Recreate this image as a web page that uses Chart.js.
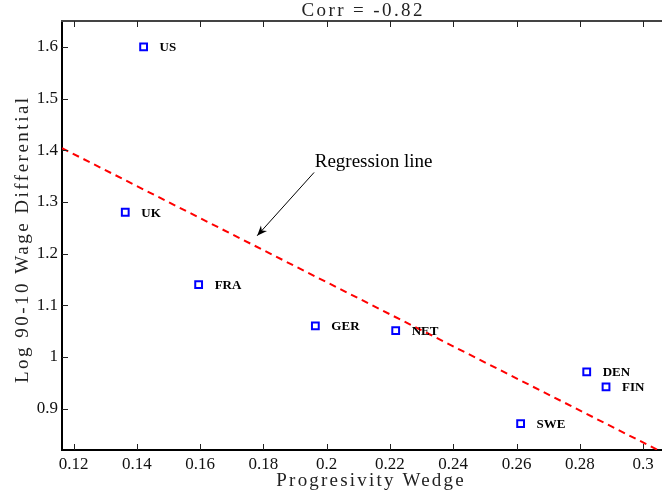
<!DOCTYPE html>
<html>
<head>
<meta charset="utf-8">
<script src="https://cdn.jsdelivr.net/npm/chart.js@4.4.1/dist/chart.umd.min.js"></script>
<style>
  html, body { margin: 0; padding: 0; background: #fff; }
  #wrap { width: 662px; height: 497px; }
</style>
</head>
<body>
<div id="wrap"><canvas id="chart"></canvas></div>
<script>
// values
const countries = ['US', 'UK', 'FRA', 'GER', 'NET', 'DEN', 'FIN', 'SWE'];
const wedge = [0.1421, 0.1363, 0.1595, 0.1964, 0.2218, 0.2822, 0.2883, 0.2613];
const wageDiff = [1.60, 1.28, 1.14, 1.06, 1.051, 0.971, 0.942, 0.871];

// regression line end points
const regWedge = [0.1163, 0.306];
const regWageDiff = [1.404, 0.816];

const xTicks = [0.12, 0.14, 0.16, 0.18, 0.2, 0.22, 0.24, 0.26, 0.28, 0.3];
const yTicks = [0.9, 1.0, 1.1, 1.2, 1.3, 1.4, 1.5, 1.6];

const titleText = 'Corr = -0.82';
const xTitle = 'Progresivity Wedge';
const yTitle = 'Log 90-10 Wage Differential';
const noteText = 'Regression line';
// note anchor and arrow, in data units
const noteAt = [0.1962, 1.368];
const arrowFrom = [0.196, 1.357];
const arrowTo = [0.178, 1.2345];

const SERIF = '"Liberation Serif", "Times New Roman", serif';

function fmt(v) {
    return String(+v.toFixed(2));
}

function spacedText(ctx, text, x, y, spacing) {
    if ('letterSpacing' in ctx) {
        ctx.letterSpacing = spacing + 'px';
        // trailing spacing shifts centred text, compensate
        const off = ctx.textAlign === 'center' ? spacing / 2 : 0;
        ctx.fillText(text, x + off, y);
        ctx.letterSpacing = '0px';
    } else {
        ctx.fillText(text, x, y);
    }
}

const decorPlugin = {
    id: 'decor',
    afterDatasetsDraw(chart) {
        const ctx = chart.ctx;
        const xs = chart.scales.x;
        const ys = chart.scales.y;
        const area = chart.chartArea;

        ctx.save();

        // top frame line
        ctx.strokeStyle = '#444';
        ctx.lineWidth = 2;
        ctx.beginPath();
        ctx.moveTo(area.left - 1, area.top);
        ctx.lineTo(area.right, area.top);
        ctx.stroke();

        // inward ticks
        ctx.strokeStyle = '#222';
        ctx.lineWidth = 1;
        xTicks.forEach(v => {
            const px = Math.round(xs.getPixelForValue(v)) + 0.5;
            ctx.beginPath();
            ctx.moveTo(px, area.bottom);
            ctx.lineTo(px, area.bottom - 6);
            ctx.moveTo(px, area.top);
            ctx.lineTo(px, area.top + 6);
            ctx.stroke();
        });
        yTicks.forEach(v => {
            const py = Math.round(ys.getPixelForValue(v)) + 0.5;
            ctx.beginPath();
            ctx.moveTo(area.left, py);
            ctx.lineTo(area.left + 6, py);
            ctx.stroke();
        });

        // country labels
        ctx.fillStyle = '#000';
        ctx.font = 'bold 13px ' + SERIF;
        ctx.textAlign = 'left';
        ctx.textBaseline = 'middle';
        countries.forEach((c, i) => {
            const px = xs.getPixelForValue(wedge[i]);
            const py = ys.getPixelForValue(wageDiff[i]);
            ctx.fillText(c, px + 16, py + 1);
        });

        // annotation
        ctx.font = '19px ' + SERIF;
        ctx.textBaseline = 'alphabetic';
        ctx.fillText(noteText, xs.getPixelForValue(noteAt[0]), ys.getPixelForValue(noteAt[1]));

        const x0 = xs.getPixelForValue(arrowFrom[0]);
        const y0 = ys.getPixelForValue(arrowFrom[1]);
        const x1 = xs.getPixelForValue(arrowTo[0]);
        const y1 = ys.getPixelForValue(arrowTo[1]);
        const a = Math.atan2(y1 - y0, x1 - x0);
        ctx.strokeStyle = '#000';
        ctx.lineWidth = 1;
        ctx.beginPath();
        ctx.moveTo(x0, y0);
        ctx.lineTo(x1, y1);
        ctx.stroke();
        ctx.fillStyle = '#000';
        ctx.beginPath();
        ctx.moveTo(x1, y1);
        ctx.lineTo(x1 - 11 * Math.cos(a - 0.38), y1 - 11 * Math.sin(a - 0.38));
        ctx.lineTo(x1 - 7 * Math.cos(a), y1 - 7 * Math.sin(a));
        ctx.lineTo(x1 - 11 * Math.cos(a + 0.38), y1 - 11 * Math.sin(a + 0.38));
        ctx.closePath();
        ctx.fill();

        // titles
        ctx.fillStyle = '#222';
        ctx.font = '19px ' + SERIF;
        ctx.textAlign = 'center';
        ctx.textBaseline = 'alphabetic';
        spacedText(ctx, titleText, (area.left + area.right) / 2, 16, 2.4);
        spacedText(ctx, xTitle, 370, 486, 2.2);

        ctx.translate(23, (area.top + area.bottom) / 2 + 5);
        ctx.rotate(-Math.PI / 2);
        ctx.textBaseline = 'middle';
        spacedText(ctx, yTitle, 0, 0, 2.5);

        ctx.restore();
    }
};

const points = wedge.map((x, i) => ({ x: x, y: wageDiff[i] }));
const regLine = regWedge.map((x, i) => ({ x: x, y: regWageDiff[i] }));

new Chart(document.getElementById('chart'), {
    type: 'scatter',
    data: {
        datasets: [
            {
                label: 'Regression line',
                data: regLine,
                showLine: true,
                borderColor: '#ff0000',
                borderWidth: 2,
                borderDash: [7, 5],
                pointRadius: 0,
                fill: false
            },
            {
                label: 'Countries',
                data: points,
                pointStyle: 'rect',
                pointRadius: 4.8,
                pointBorderWidth: 2,
                pointBorderColor: '#0000ff',
                pointBackgroundColor: '#ffffff'
            }
        ]
    },
    options: {
        responsive: true,
        maintainAspectRatio: false,
        animation: false,
        layout: {
            autoPadding: false,
            padding: { top: 21, right: 0, left: 0, bottom: 0 }
        },
        plugins: {
            legend: { display: false },
            tooltip: { enabled: false },
            title: { display: false }
        },
        scales: {
            x: {
                type: 'linear',
                min: 0.1163,
                max: 0.306,
                afterBuildTicks: s => { s.ticks = xTicks.map(v => ({ value: v })); },
                afterFit: s => {
                    s.height = 47;
                    s.paddingLeft = 0;
                    s.paddingRight = 0;
                },
                grid: { display: false, drawTicks: false },
                border: { display: true, color: '#000', width: 2 },
                ticks: {
                    padding: 4,
                    color: '#111',
                    font: { family: SERIF, size: 17 },
                    maxRotation: 0,
                    callback: v => fmt(v)
                }
            },
            y: {
                type: 'linear',
                min: 0.82,
                max: 1.65,
                afterBuildTicks: s => { s.ticks = yTicks.map(v => ({ value: v })); },
                afterFit: s => {
                    s.width = 62;
                    s.paddingTop = 0;
                    s.paddingBottom = 0;
                },
                grid: { display: false, drawTicks: false },
                border: { display: true, color: '#000', width: 2 },
                ticks: {
                    padding: 4,
                    color: '#111',
                    font: { family: SERIF, size: 17 },
                    callback: v => fmt(v)
                }
            }
        }
    },
    plugins: [decorPlugin]
});
</script>
</body>
</html>
